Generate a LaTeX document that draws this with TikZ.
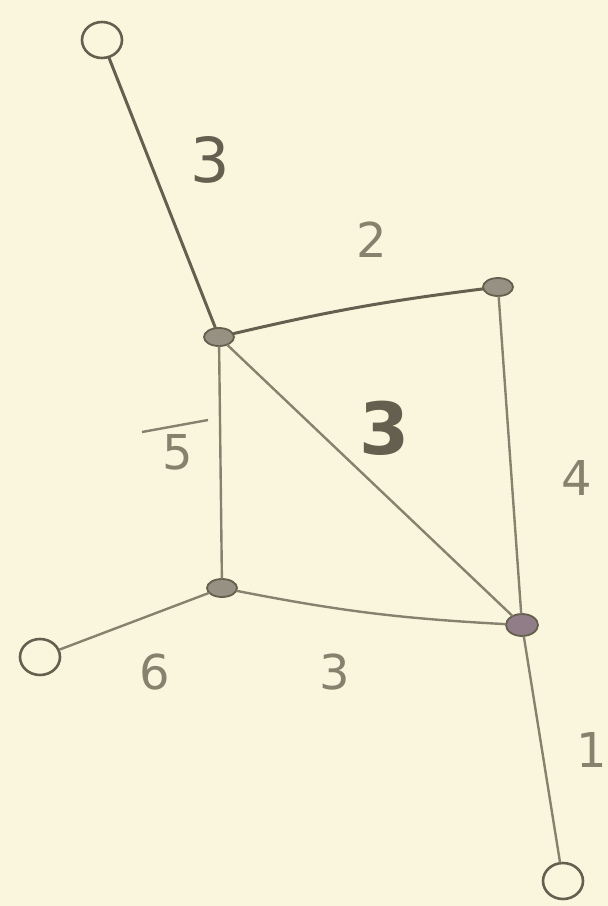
\documentclass[tikz,border=0pt]{standalone}
\usepackage{fontspec}
\setmainfont{DejaVu Sans}
\usetikzlibrary{shapes.geometric}
\definecolor{paper}{RGB}{250,246,222}
\definecolor{pencil}{RGB}{100,95,78}
\definecolor{lightpencil}{RGB}{135,130,110}
\definecolor{dotfill}{RGB}{150,145,130}
\definecolor{dotpink}{RGB}{145,125,135}
\begin{document}
\begin{tikzpicture}[x=1pt,y=-1pt,
  edge/.style={draw=lightpencil,line width=2.4pt,line cap=round},
  darkedge/.style={draw=pencil,line width=3pt,line cap=round},
  opencirc/.style={draw=pencil,line width=2.6pt,ellipse,minimum width=40pt,minimum height=36pt,inner sep=0pt},
  dot/.style={draw=pencil,fill=dotfill,line width=1.8pt,ellipse,minimum width=30pt,minimum height=18pt,inner sep=0pt},
  lbl/.style={text=pencil,font=\fontsize{62}{62}\selectfont,inner sep=0pt},
  slbl/.style={text=lightpencil,font=\fontsize{48}{48}\selectfont,inner sep=0pt}]
\fill[paper] (0,0) rectangle (608,906);
\useasboundingbox (0,0) rectangle (608,906);
\node[opencirc] (T) at (102,40) {};
\node[dot] (A) at (219,337) {};
\node[dot] (B) at (498,287) {};
\node[dot] (C) at (222,588) {};
\node[dot,fill=dotpink,minimum width=32pt,minimum height=22pt] (D) at (522,625) {};
\node[opencirc] (L) at (40,657) {};
\node[opencirc] (Bo) at (563,881) {};
\draw[darkedge] (T) -- (A);
\draw[darkedge] (A) to[bend left=3] (B);
\draw[edge] (A) -- (C);
\draw[edge] (A) -- (D);
\draw[edge] (B) -- (D);
\draw[edge] (C) -- (L);
\draw[edge] (C) to[bend right=4] (D);
\draw[edge] (D) -- (Bo);
\node[lbl] (l1) at (210,160) {3};
\node[slbl] (l2) at (372,240) {2};
\node[slbl] (l3) at (178,452) {5};
\draw[lightpencil,line width=2.4pt] (142,432) -- (208,420);
\node[lbl,font=\fontsize{72}{72}\selectfont\bfseries] (l4) at (385,428) {3};
\node[slbl] (l5) at (577,478) {4};
\node[slbl] (l6) at (155,672) {6};
\node[slbl] (l7) at (335,672) {3};
\node[slbl] (l8) at (592,750) {1};
\end{tikzpicture}
\end{document}
